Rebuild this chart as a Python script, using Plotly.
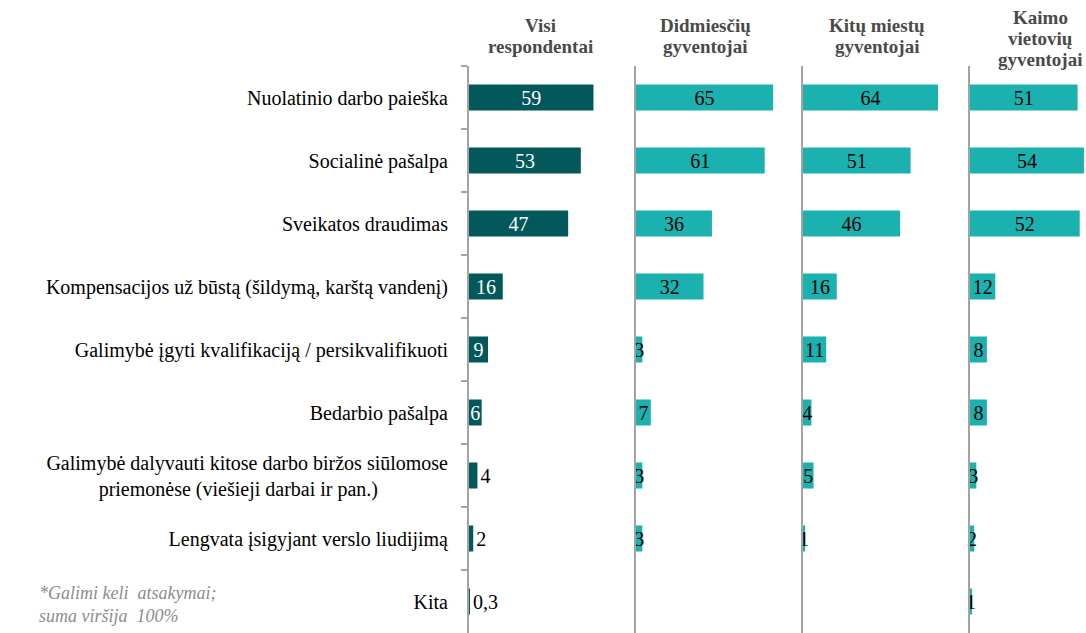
import plotly.graph_objects as go

categories = [
    "Nuolatinio darbo paieška",
    "Socialinė pašalpa",
    "Sveikatos draudimas",
    "Kompensacijos už būstą (šildymą, karštą vandenį)",
    "Galimybė įgyti kvalifikaciją / persikvalifikuoti",
    "Bedarbio pašalpa",
    "Galimybė dalyvauti kitose darbo biržos siūlomose<br>priemonėse (viešieji darbai ir pan.)" + "\u00a0" * 14,
    "Lengvata įsigyjant verslo liudijimą",
    "Kita",
]
groups = [["Visi", "respondentai"], ["Didmiesčių", "gyventojai"],
          ["Kitų miestų", "gyventojai"], ["Kaimo", "vietovių", "gyventojai"]]
visi = [59, 53, 47, 16, 9, 6, 4, 2, 0.3]
didmiesciu = [65, 61, 36, 32, 3, 7, 3, 3, None]
kitu_miestu = [64, 51, 46, 16, 11, 4, 5, 1, None]
kaimo = [51, 54, 52, 12, 8, 8, 3, 2, 1]
series = [visi, didmiesciu, kitu_miestu, kaimo]

W, H = 1086, 633
TOP = 66
PH = H - TOP
DARK = "#03585B"
TEAL = "#1BB1AF"
LINE = "#a3a3a3"
FONT = "Liberation Serif"
PXU = 2.11  # pixels per percentage point
starts = [469, 636, 803, 970]
ends = [636, 803, 970, 1086]


def lab(v):
    if v is None:
        return ""
    return ("%g" % v).replace(".", ",")


def py(ypx):
    return (H - ypx) / PH


fig = go.Figure()
for i, vals in enumerate(series):
    ax = "" if i == 0 else str(i + 1)
    if i == 0:
        pos = ["inside"] * 6 + ["outside"] * 3
        tcol = ["white"] * 6 + ["black"] * 3
        color = DARK
    else:
        pos = ["inside"] * 9
        tcol = ["black"] * 9
        color = TEAL
    fig.add_trace(go.Bar(
        x=vals, y=categories, orientation="h",
        marker=dict(color=color, line=dict(width=0)),
        text=[lab(v) for v in vals], textposition=pos, textangle=0,
        insidetextanchor="middle",
        textfont=dict(family=FONT, size=20, color=tcol),
        cliponaxis=False, showlegend=False,
        xaxis="x" + ax, yaxis="y" + ax, hoverinfo="skip",
    ))

layout = dict(
    width=W, height=H,
    margin=dict(l=0, r=0, t=TOP, b=0, pad=0),
    paper_bgcolor="white", plot_bgcolor="white",
    bargap=0.587,
    font=dict(family=FONT, size=20, color="black"),
    uniformtext=dict(minsize=20, mode="show"),
)
for i in range(4):
    ax = "" if i == 0 else str(i + 1)
    layout["xaxis" + ax] = dict(
        domain=[starts[i] / W, ends[i] / W],
        range=[0, (ends[i] - starts[i]) / PXU],
        visible=False, anchor="y" + ax, fixedrange=True,
    )
    ydict = dict(
        type="category", categoryarray=categories, range=[8.5, -0.5],
        anchor="x" + ax, domain=[0, 1], showline=True, linecolor=LINE,
        linewidth=2, showgrid=False, zeroline=False, fixedrange=True,
    )
    if i == 0:
        ydict.update(ticks="outside", tickson="boundaries", ticklen=6,
                     tickcolor=LINE, tickwidth=2, ticklabelstandoff=15,
                     tickfont=dict(family=FONT, size=20, color="black"))
    else:
        ydict.update(showticklabels=False, ticks="", matches="y")
    layout["yaxis" + ax] = ydict

fig.update_layout(**layout)

hx = [540, 705, 877, 1040]
hys = [[25, 47], [25, 47], [25, 47], [17, 38, 60]]
for lines, x, ys in zip(groups, hx, hys):
    for t, y in zip(lines, ys):
        fig.add_annotation(
            text="<b>" + t + "</b>", x=x / W, y=py(y), xref="paper", yref="paper",
            showarrow=False, xanchor="center", yanchor="middle",
            font=dict(family=FONT, size=19, color="#4a4a4a"),
        )

fig.add_annotation(
    text="<i>*Galimi keli  atsakymai;<br>suma viršija  100%</i>",
    x=37 / W, y=py(604), xref="paper", yref="paper", showarrow=False,
    xanchor="left", yanchor="middle", align="left",
    font=dict(family=FONT, size=18, color="#8c8c8c"),
)

fig.write_html("out.html", config={"displayModeBar": False},
               post_script="document.body.style.margin='0';document.body.style.overflow='hidden';")
